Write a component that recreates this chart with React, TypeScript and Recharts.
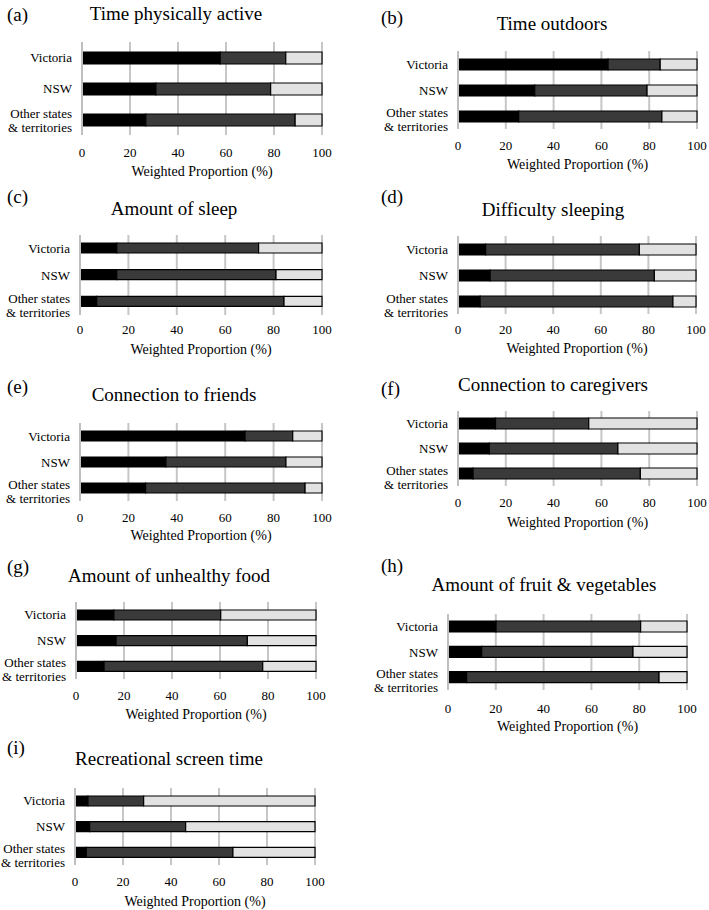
import { Bar, BarChart, CartesianGrid, XAxis, YAxis } from "recharts";

const categories = ["Victoria", "NSW", "Other states & territories"];
const panelLetters = ["(a)", "(b)", "(c)", "(d)", "(e)", "(f)", "(g)", "(h)", "(i)"];
const panelTitles = [
  "Time physically active",
  "Time outdoors",
  "Amount of sleep",
  "Difficulty sleeping",
  "Connection to friends",
  "Connection to caregivers",
  "Amount of unhealthy food",
  "Amount of fruit & vegetables",
  "Recreational screen time",
];
const xTicks = [0, 20, 40, 60, 80, 100];
const axisTitle = "Weighted Proportion (%)";

// shares per panel, in category order (Victoria, NSW, other)
const lowShares = [
  [57.6, 30.8, 26.6],
  [62.8, 32.1, 25.4],
  [15.2, 15.2, 6.9],
  [11.6, 13.5, 9.3],
  [68.2, 35.5, 27.1],
  [15.7, 13.1, 6.3],
  [15.8, 16.7, 11.7],
  [20.1, 14.1, 7.8],
  [5.4, 6.1, 4.7],
];
const midShares = [
  [27.3, 47.8, 62.2],
  [21.8, 47.0, 59.9],
  [58.6, 65.8, 77.4],
  [64.6, 69.0, 81.0],
  [19.7, 49.6, 65.9],
  [39.0, 53.8, 70.0],
  [44.5, 54.7, 66.1],
  [60.5, 63.3, 80.5],
  [23.2, 40.0, 61.1],
];
const highShares = [
  [15.1, 21.4, 11.2],
  [15.4, 20.9, 14.7],
  [26.2, 19.0, 15.7],
  [23.8, 17.5, 9.7],
  [12.1, 14.9, 7.0],
  [45.3, 33.1, 23.7],
  [39.7, 28.6, 22.2],
  [19.4, 22.6, 11.7],
  [71.4, 53.9, 34.2],
];

type Layout = {
  x0: number;
  x100: number;
  top: number;
  bottom: number;
  bar: number;
  tickY: number;
  labelY: number;
  titleX: number;
  titleY: number;
  letterX: number;
  letterY: number;
  otherShift: number;
};

const layouts: Layout[] = [
  { x0: 82, x100: 322, top: 42, bottom: 135, bar: 12, tickY: 152, labelY: 172, titleX: 176, titleY: 13, letterX: 7, letterY: 14, otherShift: -6 },
  { x0: 458, x100: 697, top: 51, bottom: 129, bar: 11, tickY: 145, labelY: 165, titleX: 552, titleY: 23, letterX: 381, letterY: 17, otherShift: -3.5 },
  { x0: 80, x100: 322, top: 235, bottom: 315, bar: 10, tickY: 329, labelY: 350, titleX: 174, titleY: 208, letterX: 7, letterY: 196, otherShift: -3 },
  { x0: 458, x100: 696, top: 236, bottom: 314, bar: 11, tickY: 329, labelY: 349, titleX: 553, titleY: 209, letterX: 381, letterY: 196, otherShift: -3 },
  { x0: 80, x100: 322, top: 423, bottom: 501, bar: 10, tickY: 517, labelY: 536, titleX: 174, titleY: 394, letterX: 7, letterY: 386, otherShift: -3.5 },
  { x0: 458, x100: 697, top: 411, bottom: 486, bar: 11, tickY: 502, labelY: 523, titleX: 553, titleY: 384, letterX: 381, letterY: 388, otherShift: -3.5 },
  { x0: 76, x100: 316, top: 602, bottom: 679, bar: 10, tickY: 695, labelY: 715, titleX: 169, titleY: 575, letterX: 7, letterY: 566, otherShift: -3.5 },
  { x0: 448, x100: 687, top: 614, bottom: 690, bar: 11, tickY: 708, labelY: 727, titleX: 544, titleY: 584, letterX: 381, letterY: 565, otherShift: -3.5 },
  { x0: 75, x100: 315, top: 788, bottom: 865, bar: 10, tickY: 881, labelY: 902, titleX: 169, titleY: 758, letterX: 7, letterY: 747, otherShift: -3.5 },
];

const FONT = "'Liberation Serif', 'DejaVu Serif', serif";
const INK = "#000000";

function XTick(props: any) {
  const { x, y, payload } = props;
  return (
    <text x={x} y={y} dy="0.35em" textAnchor="middle" fontSize={13} fontFamily={FONT} fill={INK}>
      {payload.value}
    </text>
  );
}

function YTick(props: any) {
  const { x, y, payload, shift } = props;
  const value: string = payload.value;
  if (value.startsWith("Other")) {
    return (
      <g>
        <text x={x} y={y + shift} dy="0.35em" textAnchor="end" fontSize={13} fontFamily={FONT} fill={INK}>
          Other states
        </text>
        <text x={x} y={y + shift + 14} dy="0.35em" textAnchor="end" fontSize={13} fontFamily={FONT} fill={INK}>
          &amp; territories
        </text>
      </g>
    );
  }
  return (
    <text x={x} y={y} dy="0.35em" textAnchor="end" fontSize={13} fontFamily={FONT} fill={INK}>
      {value}
    </text>
  );
}

const centered = (x: number, y: number, size: number): React.CSSProperties => ({
  position: "absolute",
  left: x,
  top: y,
  transform: "translate(-50%, -50%)",
  whiteSpace: "nowrap",
  fontFamily: FONT,
  fontSize: size,
  lineHeight: 1,
  color: INK,
});

function Panel({ index }: { index: number }) {
  const L = layouts[index];
  const data = categories.map((name, i) => ({
    name,
    low: lowShares[index][i],
    mid: midShares[index][i],
    high: highShares[index][i],
  }));
  const yw = 80;
  const axisH = 30;
  const plotW = L.x100 - L.x0;

  return (
    <>
      <div
        style={{
          position: "absolute",
          left: L.letterX,
          top: L.letterY,
          transform: "translateY(-50%)",
          fontFamily: FONT,
          fontSize: 19,
          lineHeight: 1,
          color: INK,
        }}
      >
        {panelLetters[index]}
      </div>
      <div style={centered(L.titleX, L.titleY, 19)}>{panelTitles[index]}</div>
      <div style={{ position: "absolute", left: L.x0 - yw, top: L.top }}>
        <BarChart
          width={yw + plotW + 10}
          height={L.bottom - L.top + axisH}
          data={data}
          layout="vertical"
          barSize={L.bar}
          margin={{ top: 0, right: 10, bottom: 0, left: 0 }}
        >
          <CartesianGrid horizontal={false} stroke="#c6c6c6" strokeWidth={2} />
          <XAxis
            type="number"
            domain={[0, 100]}
            ticks={xTicks}
            interval={0}
            axisLine={false}
            tickLine={false}
            tickSize={0}
            tickMargin={L.tickY - L.bottom}
            height={axisH}
            tick={<XTick />}
          />
          <YAxis
            type="category"
            dataKey="name"
            width={yw}
            tickLine={false}
            tickSize={0}
            tickMargin={10}
            axisLine={{ stroke: "#bfbfbf", strokeWidth: 2 }}
            tick={(p: any) => <YTick {...p} shift={L.otherShift} />}
          />
          <Bar dataKey="low" stackId="s" fill="#000000" stroke="#000" strokeWidth={1.2} isAnimationActive={false} />
          <Bar dataKey="mid" stackId="s" fill="#3a3a3a" stroke="#000" strokeWidth={1.2} isAnimationActive={false} />
          <Bar dataKey="high" stackId="s" fill="#e2e2e2" stroke="#000" strokeWidth={1.2} isAnimationActive={false} />
        </BarChart>
      </div>
      <div style={centered((L.x0 + L.x100) / 2, L.labelY, 14)}>{axisTitle}</div>
    </>
  );
}

export default function App() {
  return (
    <div
      style={{
        position: "absolute",
        left: 0,
        top: 0,
        width: 709,
        height: 910,
        background: "#fff",
        overflow: "hidden",
      }}
    >
      {layouts.map((_, i) => (
        <Panel key={i} index={i} />
      ))}
    </div>
  );
}
